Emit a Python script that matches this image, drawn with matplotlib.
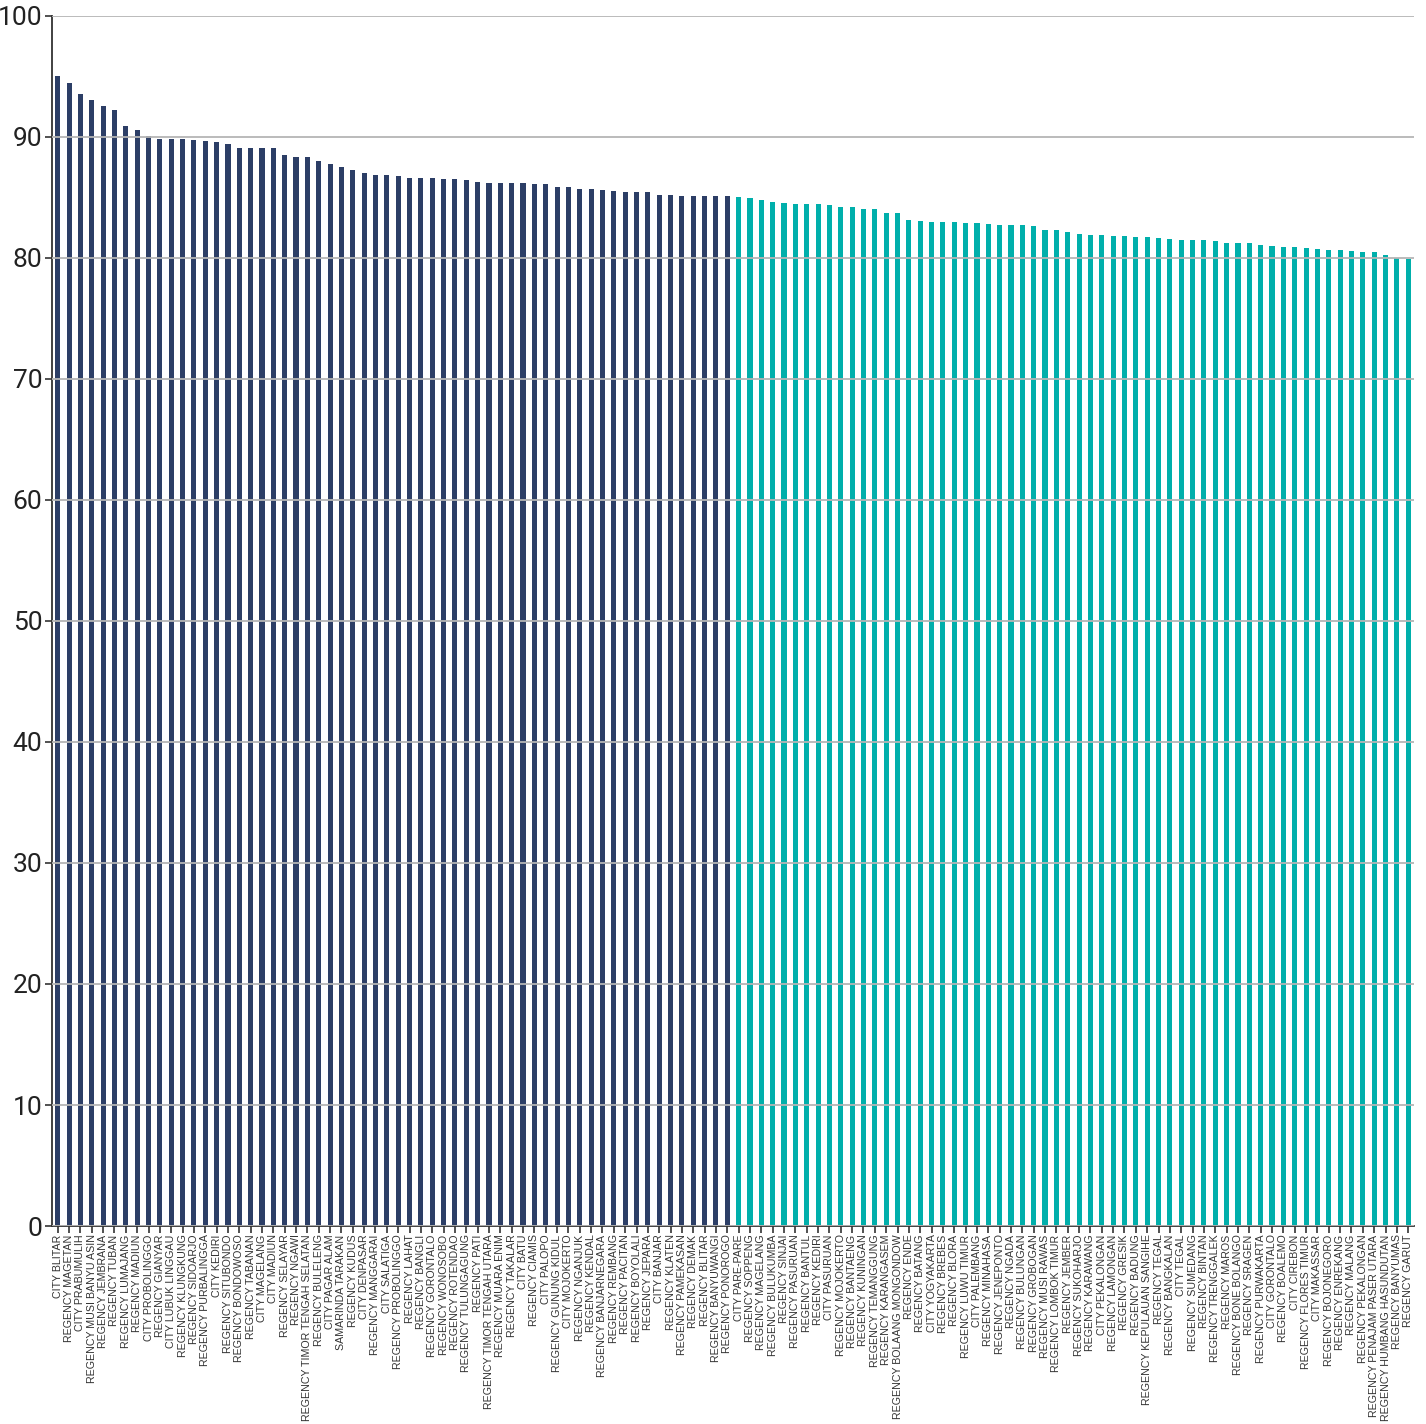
import numpy as np
import matplotlib
matplotlib.use("Agg")
from matplotlib import pyplot as plt

# nama daerah (urut dari nilai tertinggi)
regions = [
    "CITY BLITAR", "REGENCY MAGETAN", "CITY PRABUMULIH", "REGENCY MUSI BANYU ASIN",
    "REGENCY JEMBRANA", "REGENCY TUBAN", "REGENCY LUMAJANG", "REGENCY MADIUN",
    "CITY PROBOLINGGO", "REGENCY GIANYAR", "CITY LUBUK LINGGAU", "REGENCY KLUNGKUNG",
    "REGENCY SIDOARJO", "REGENCY PURBALINGGA", "CITY KEDIRI", "REGENCY SITUBONDO",
    "REGENCY BONDOWOSO", "REGENCY TABANAN", "CITY MAGELANG", "CITY MADIUN",
    "REGENCY SELAYAR", "REGENCY NGAWI", "REGENCY TIMOR TENGAH SELATAN", "REGENCY BULELENG",
    "CITY PAGAR ALAM", "SAMARINDA TARAKAN", "REGENCY KUDUS", "CITY DENPASAR",
    "REGENCY MANGGARAI", "CITY SALATIGA", "REGENCY PROBOLINGGO", "REGENCY LAHAT",
    "REGENCY BANGLI", "REGENCY GORONTALO", "REGENCY WONOSOBO", "REGENCY ROTENDAO",
    "REGENCY TULUNGAGUNG", "REGENCY PATI", "REGENCY TIMOR TENGAH UTARA", "REGENCY MUARA ENIM",
    "REGENCY TAKALAR", "CITY BATU", "REGENCY CIAMIS", "CITY PALOPO",
    "REGENCY GUNUNG KIDUL", "CITY MOJOKERTO", "REGENCY NGANJUK", "REGENCY KENDAL",
    "REGENCY BANJARNEGARA", "REGENCY REMBANG", "REGENCY PACITAN", "REGENCY BOYOLALI",
    "REGENCY JEPARA", "CITY BANJAR", "REGENCY KLATEN", "REGENCY PAMEKASAN",
    "REGENCY DEMAK", "REGENCY BLITAR", "REGENCY BANYUWANGI", "REGENCY PONOROGO",
    "CITY PARE-PARE", "REGENCY SOPPENG", "REGENCY MAGELANG", "REGENCY BULUKUMBA",
    "REGENCY SINJAI", "REGENCY PASURUAN", "REGENCY BANTUL", "REGENCY KEDIRI",
    "CITY PASURUAN", "REGENCY MOJOKERTO", "REGENCY BANTAENG", "REGENCY KUNINGAN",
    "REGENCY TEMANGGUNG", "REGENCY KARANGASEM", "REGENCY BOLAANG MONGONDOW", "REGENCY ENDE",
    "REGENCY BATANG", "CITY YOGYAKARTA", "REGENCY BREBES", "REGENCY BLORA",
    "REGENCY LUWU TIMUR", "CITY PALEMBANG", "REGENCY MINAHASA", "REGENCY JENEPONTO",
    "REGENCY NGADA", "REGENCY BULUNGAN", "REGENCY GROBOGAN", "REGENCY MUSI RAWAS",
    "REGENCY LOMBOK TIMUR", "REGENCY JEMBER", "REGENCY SUKOHARJO", "REGENCY KARAWANG",
    "CITY PEKALONGAN", "REGENCY LAMONGAN", "REGENCY GRESIK", "REGENCY BADUNG",
    "REGENCY KEPULAUAN SANGIHE", "REGENCY TEGAL", "REGENCY BANGKALAN", "CITY TEGAL",
    "REGENCY SUMEDANG", "REGENCY BINTAN", "REGENCY TRENGGALEK", "REGENCY MAROS",
    "REGENCY BONE BOLANGO", "REGENCY SRAGEN", "REGENCY PURWAKARTA", "CITY GORONTALO",
    "REGENCY BOALEMO", "CITY CIREBON", "REGENCY FLORES TIMUR", "CITY MAKASSAR",
    "REGENCY BOJONEGORO", "REGENCY ENREKANG", "REGENCY MALANG", "REGENCY PEKALONGAN",
    "REGENCY PENAJAM PASER UTARA", "REGENCY HUMBANG HASUNDUTAN", "REGENCY BANYUMAS", "REGENCY GARUT",
]

scores = [
    95.0, 94.4, 93.55, 93.05, 92.56, 92.23, 90.9, 90.58, 90.08, 89.83,
    89.83, 89.83, 89.75, 89.67, 89.6, 89.4, 89.1, 89.1, 89.1, 89.1,
    88.45, 88.35, 88.35, 88.0, 87.77, 87.5, 87.27, 87.0, 86.86, 86.86,
    86.78, 86.61, 86.61, 86.61, 86.53, 86.53, 86.45, 86.28, 86.2, 86.2,
    86.2, 86.2, 86.1, 86.1, 85.87, 85.87, 85.7, 85.7, 85.62, 85.54,
    85.45, 85.45, 85.45, 85.2, 85.2, 85.12, 85.12, 85.12, 85.12, 85.12,
    85.04, 84.96, 84.8, 84.63, 84.55, 84.46, 84.46, 84.46, 84.38, 84.21,
    84.21, 84.05, 84.05, 83.72, 83.72, 83.14, 83.06, 82.98, 82.98, 82.98,
    82.89, 82.89, 82.81, 82.73, 82.73, 82.73, 82.64, 82.31, 82.31, 82.15,
    81.98, 81.9, 81.9, 81.82, 81.82, 81.74, 81.74, 81.65, 81.57, 81.49,
    81.49, 81.49, 81.4, 81.24, 81.24, 81.24, 81.07, 80.99, 80.91, 80.91,
    80.83, 80.74, 80.66, 80.66, 80.58, 80.5, 80.5, 80.25, 80.0, 79.92,
]

# 60 teratas biru tua, sisanya hijau toska
top_n = 60
colors = ["#2c3e66"] * top_n + ["#00afab"] * (len(scores) - top_n)

fig = plt.figure(figsize=(14.26, 14.24), dpi=100)
ax = fig.add_axes([0.0365, 0.139, 0.955, 0.85])

x = np.arange(len(scores))
ax.bar(x, scores, width=0.45, color=colors, zorder=1)

ax.set_xlim(-0.5, len(scores) - 0.5)
ax.set_ylim(0, 100)
ax.set_yticks(range(0, 101, 10))
ax.set_xticks(x)
ax.set_xticklabels(regions, rotation=90, fontsize=7.7, color="#333333",
                   family=["Liberation Sans Narrow", "Liberation Sans", "DejaVu Sans"])
for lab in ax.get_yticklabels():
    lab.set_family(["Liberation Sans Narrow", "Roboto", "DejaVu Sans"])
    lab.set_fontsize(19)
    lab.set_color("#222222")

ax.grid(axis="y", color="#b5b5b5", linewidth=1.3, zorder=2)
ax.set_axisbelow(False)
ax.tick_params(axis="x", length=5, width=1.2, color="#333333", pad=1)
ax.tick_params(axis="y", length=5, width=1.2, color="#333333", pad=2)
for s in ["top", "right"]:
    ax.spines[s].set_visible(False)
for s in ["left", "bottom"]:
    ax.spines[s].set_color("#333333")
    ax.spines[s].set_linewidth(1.3)

fig.savefig("out.png", dpi=100)
